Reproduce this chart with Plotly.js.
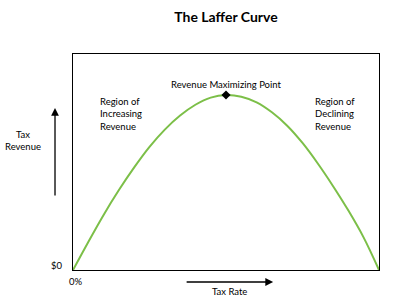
<!DOCTYPE html>
<html>
<head>
<meta charset="utf-8">
<script src="https://cdn.plot.ly/plotly-3.0.1.min.js"></script>
<style>html,body{margin:0;padding:0;background:#fff;}#chart{width:400px;height:300px;}</style>
</head>
<body>
<div id="chart"></div>
<script>
var taxRate = [0, 5, 10, 15, 20, 25, 30, 35, 40, 45, 50, 55, 60, 65, 70, 75, 80, 85, 90, 95, 100];
var taxRevenue = [0, 13, 25.5, 37, 47.5, 57, 65, 71.5, 76.5, 79.8, 81, 80.2, 77.6, 73, 66.8, 58.8, 49.3, 38.8, 27.5, 15, 0];
var peakRate = [50];
var peakRevenue = [81];

var F = 'Lato, "Open Sans", sans-serif';
var traces = [
  {x: taxRate, y: taxRevenue, mode: 'lines', line: {color: '#7cbf48', width: 2, shape: 'spline', smoothing: 1}, hoverinfo: 'none'},
  {x: peakRate, y: peakRevenue, mode: 'markers', marker: {color: '#000', size: 7, symbol: 'diamond'}, hoverinfo: 'none'}
];
var ann = [];
function t(text, x, y, xa, opts) {
  var a = {text: text, x: x, y: y, xref: 'paper', yref: 'paper', showarrow: false, xanchor: xa || 'center', yanchor: 'middle', align: xa || 'center', font: {family: F, size: 9.5, color: '#000'}};
  for (var k in opts) a[k] = opts[k];
  ann.push(a);
}
t('Region of<br>Increasing<br>Revenue', 0.082, 0.72, 'left');
t('Region of<br>Declining<br>Revenue', 0.785, 0.72, 'left');
t('Revenue Maximizing Point', 0.5, 0.86, 'center');
t('Tax<br>Revenue', -0.165, 0.60, 'center');
t('$0', -0.025, 0.02, 'right');
t('0%', 0.01, -0.055, 'center');
t('Tax Rate', 0.51, -0.10, 'center');
ann.push({x: -0.0588, y: 0.75, xref: 'paper', yref: 'paper', ax: 0, ay: 89, axref: 'pixel', ayref: 'pixel', showarrow: true, arrowhead: 2, arrowsize: 1.2, arrowwidth: 1.3, arrowcolor: '#000', text: ''});
ann.push({x: 0.654, y: -0.0556, xref: 'paper', yref: 'paper', ax: -88, ay: 0, axref: 'pixel', ayref: 'pixel', showarrow: true, arrowhead: 2, arrowsize: 1.2, arrowwidth: 1.3, arrowcolor: '#000', text: ''});

var layout = {
  width: 400, height: 300,
  margin: {l: 73, r: 21, t: 54, b: 30},
  paper_bgcolor: '#fff', plot_bgcolor: '#fff',
  showlegend: false,
  title: {text: '<b>The Laffer Curve</b>', x: 0.5, xref: 'paper', y: 1 - 17/300, yref: 'container', yanchor: 'middle', font: {family: F, size: 14, color: '#000'}},
  xaxis: {range: [0, 100], showgrid: false, zeroline: false, showticklabels: false, ticks: '', showline: true, mirror: true, linecolor: '#000', linewidth: 1, fixedrange: true},
  yaxis: {range: [0, 100], showgrid: false, zeroline: false, showticklabels: false, ticks: '', showline: true, mirror: true, linecolor: '#000', linewidth: 1, fixedrange: true},
  annotations: ann
};
Plotly.newPlot('chart', traces, layout, {staticPlot: true});
</script>
</body>
</html>
